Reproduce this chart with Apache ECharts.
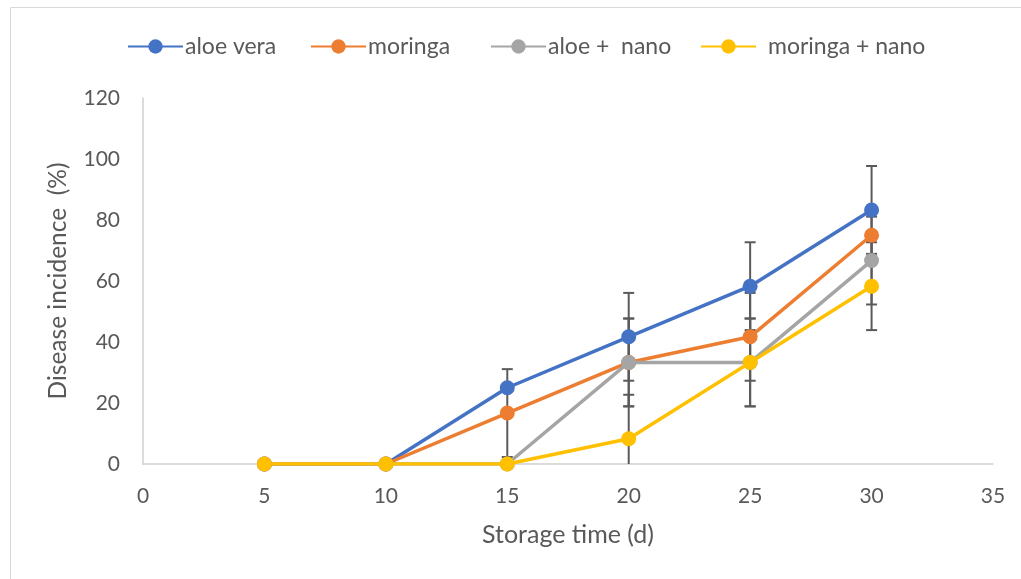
<!DOCTYPE html>
<html>
<head>
<meta charset="utf-8">
<script src="https://cdn.jsdelivr.net/npm/echarts@6/dist/echarts.min.js"></script>
<style>
  html, body { margin: 0; padding: 0; background: #fff; }
  #chart { width: 1021px; height: 579px; }
</style>
</head>
<body>
<div id="chart"></div>
<script>
// Storage time (days)
const days = [5, 10, 15, 20, 25, 30];

// Disease incidence (%) per treatment
const aloeVera = [0, 0, 25, 41.7, 58.3, 83.3];
const moringa = [0, 0, 16.7, 33.3, 41.7, 75];
const aloeNano = [0, 0, 0, 33.3, 33.3, 66.7];
const moringaNano = [0, 0, 0, 8.3, 33.3, 58.3];

// Error bar half-widths (%)
const aloeVeraErr = [0, 0, 0, 14.4, 14.4, 14.4];
const moringaErr = [0, 0, 14.4, 14.4, 14.4, 0];
const aloeNanoErr = [0, 0, 0, 14.4, 14.4, 14.4];
const moringaNanoErr = [0, 0, 0, 14.4, 14.4, 14.4];

const seriesNames = ['aloe vera', 'moringa', 'aloe +  nano', 'moringa + nano'];
const seriesValues = [aloeVera, moringa, aloeNano, moringaNano];
const seriesErrors = [aloeVeraErr, moringaErr, aloeNanoErr, moringaNanoErr];
const colors = ['#4472C4', '#ED7D31', '#A5A5A5', '#FFC000'];

const xTicks = [0, 5, 10, 15, 20, 25, 30, 35];
const yTicks = [0, 20, 40, 60, 80, 100, 120];

const FONT = 'Lato';
const TEXT = '#595959';

const chart = echarts.init(document.getElementById('chart'), null, { renderer: 'canvas' });

// Vertical error bar with caps; the lower end is clipped at the axis
function errorBarItem(params, api) {
  const x = api.value(0), y = api.value(1), e = api.value(2);
  if (!e) return null;
  let lo = y - e, hi = y + e;
  const loClipped = lo < 0;
  if (loClipped) lo = 0;
  const pHi = api.coord([x, hi]);
  const pLo = api.coord([x, lo]);
  const cap = 5.5;
  const style = { stroke: '#5a5a5a', lineWidth: 2 };
  const children = [
    { type: 'line', shape: { x1: pHi[0], y1: pHi[1], x2: pLo[0], y2: pLo[1] }, style },
    { type: 'line', shape: { x1: pHi[0] - cap, y1: pHi[1], x2: pHi[0] + cap, y2: pHi[1] }, style }
  ];
  if (!loClipped) {
    children.push({ type: 'line', shape: { x1: pLo[0] - cap, y1: pLo[1], x2: pLo[0] + cap, y2: pLo[1] }, style });
  }
  return { type: 'group', children };
}

const series = [];
seriesNames.forEach((name, i) => {
  series.push({
    name: name + ' err',
    type: 'custom',
    renderItem: errorBarItem,
    data: days.map((d, k) => [d, seriesValues[i][k], seriesErrors[i][k]]),
    z: 1,
    silent: true,
    encode: { x: 0, y: 1 }
  });
});
seriesNames.forEach((name, i) => {
  series.push({
    name: name,
    type: 'line',
    data: days.map((d, k) => [d, seriesValues[i][k]]),
    symbol: 'circle',
    symbolSize: 15,
    lineStyle: { width: 3.5, color: colors[i] },
    itemStyle: { color: colors[i] },
    z: 2 + i
  });
});

const legendLeft = [127, 310, 490, 700];
const legendTextPad = [-3, -3, -3, 7];
const legends = seriesNames.map((name, i) => ({
  data: [name],
  left: legendLeft[i],
  top: 35,
  padding: 0,
  itemWidth: 55,
  itemHeight: 18,
  itemGap: 0,
  textStyle: { fontFamily: FONT, fontSize: 23, color: TEXT, padding: [0, 0, 0, legendTextPad[i]] }
}));

const option = {
  backgroundColor: '#ffffff',
  animation: false,
  color: colors,
  textStyle: { fontFamily: FONT },
  graphic: [{
    type: 'rect',
    shape: { x: 10.5, y: 7.5, width: 1100, height: 700 },
    style: { fill: 'none', stroke: '#d9d9d9', lineWidth: 1 },
    silent: true
  }],
  legend: legends,
  grid: { left: 143, right: 28, top: 98, bottom: 115, containLabel: false },
  xAxis: {
    type: 'value',
    min: xTicks[0],
    max: xTicks[xTicks.length - 1],
    interval: 5,
    name: 'Storage time (d)',
    nameLocation: 'middle',
    nameGap: 58,
    nameTextStyle: { fontFamily: FONT, fontSize: 25, color: TEXT },
    axisLine: { show: true, lineStyle: { color: '#d0d0d0', width: 1.5 } },
    axisTick: { show: false },
    splitLine: { show: false },
    axisLabel: { fontFamily: FONT, fontSize: 21, color: TEXT, margin: 22 }
  },
  yAxis: {
    type: 'value',
    min: yTicks[0],
    max: yTicks[yTicks.length - 1],
    interval: 20,
    name: 'Disease incidence  (%)',
    nameLocation: 'middle',
    nameGap: 72,
    nameTextStyle: { fontFamily: FONT, fontSize: 24.5, color: TEXT },
    axisLine: { show: true, lineStyle: { color: '#d0d0d0', width: 1.5 } },
    axisTick: { show: false },
    splitLine: { show: false },
    axisLabel: { fontFamily: FONT, fontSize: 21, color: TEXT, margin: 23 }
  },
  series
};

chart.setOption(option);
</script>
</body>
</html>
